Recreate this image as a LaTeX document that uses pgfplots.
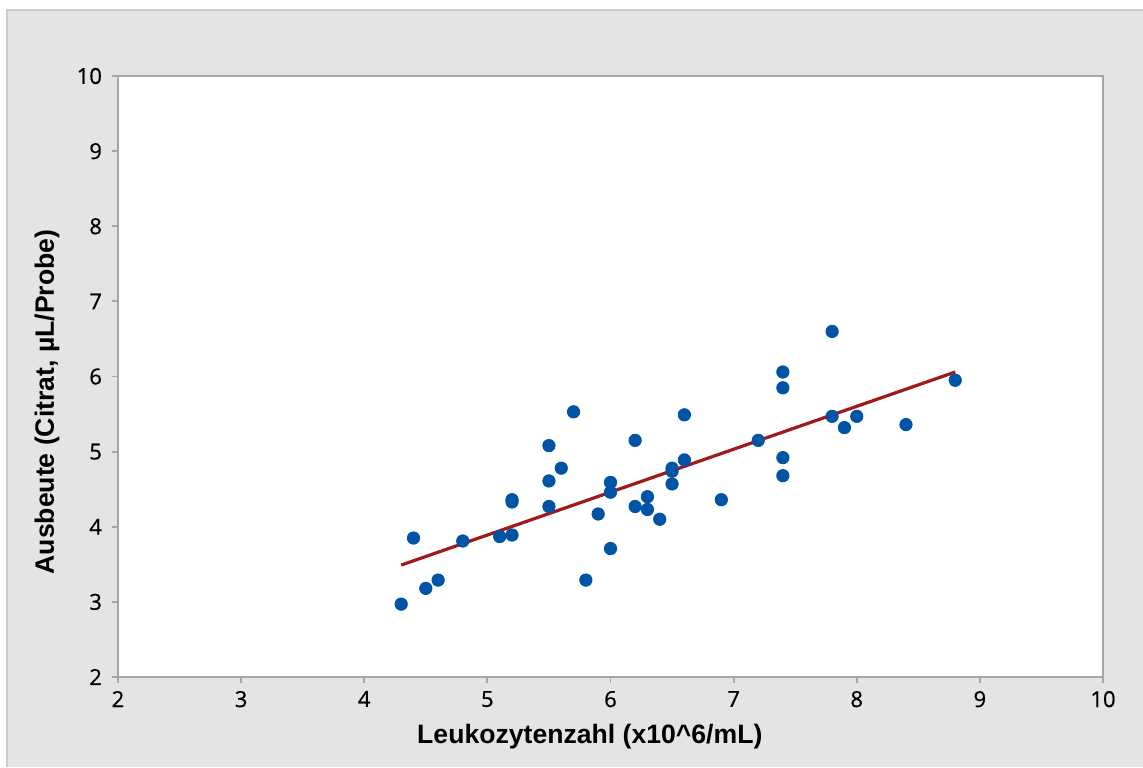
\documentclass[border=0pt]{standalone}
\usepackage{fontspec}
\setmainfont{Liberation Sans}
\newfontfamily\tickfont[FakeBold=0.7]{Open Sans}
\usepackage{pgfplots}
\pgfplotsset{compat=1.18}

\definecolor{bg}{HTML}{E4E4E4}
\definecolor{frame}{HTML}{CCCCCC}
\definecolor{axgray}{HTML}{A6A6A6}
\definecolor{dotblue}{HTML}{0054A6}
\definecolor{fitred}{HTML}{A01A1A}

\pgfplotstableread{
x y
4.3 2.97
4.4 3.85
4.5 3.18
4.6 3.29
4.8 3.81
5.1 3.87
5.2 3.89
5.2 4.33
5.2 4.36
5.5 4.27
5.5 4.61
5.5 5.08
5.6 4.78
5.7 5.53
5.8 3.29
5.9 4.17
6.0 3.71
6.0 4.46
6.0 4.59
6.2 4.27
6.2 5.15
6.3 4.23
6.3 4.40
6.4 4.10
6.5 4.57
6.5 4.74
6.5 4.78
6.6 4.89
6.6 5.49
6.9 4.36
7.2 5.15
7.4 4.68
7.4 4.92
7.4 5.85
7.4 6.06
7.8 5.47
7.8 6.60
7.9 5.32
8.0 5.47
8.4 5.36
8.8 5.95
}\leuko

\begin{document}
\begin{tikzpicture}
% page frame: 1 px = 0.5pt, axis origin at px (118,677)
\fill[white] (-59pt,-45pt) rectangle (512.5pt,338.5pt);
\fill[bg] (-55.5pt,-45pt) rectangle (512.5pt,333.5pt);
\draw[frame,line width=1pt] (-55.5pt,-45pt) -- (-55.5pt,333.5pt) -- (512.5pt,333.5pt);
\begin{axis}[
  at={(0,0)},anchor=origin,
  scale only axis,width=492.5pt,height=300.5pt,
  xmin=2,xmax=10,ymin=2,ymax=10,
  xtick={2,...,10},ytick={2,...,10},
  axis background/.style={fill=white},
  axis line style={axgray,line width=0.9pt},
  tick style={axgray,line width=0.9pt},
  tick align=outside,major tick length=3pt,
  xtick pos=bottom,ytick pos=left,
  /pgf/number format/assume math mode=true,
  tick label style={font=\tickfont\fontsize{11}{13}\selectfont,text=black},
  xticklabel style={yshift=-0.5pt},
  yticklabel style={xshift=-1.5pt},
  xlabel={Leukozytenzahl (x10\^{}6/mL)},
  ylabel={Ausbeute (Citrat, µL/Probe)},
  label style={font=\bfseries\fontsize{13.3}{15}\selectfont},
  xlabel style={at={(axis description cs:0.479,-0.0998)},anchor=center},
  ylabel style={at={(axis description cs:-0.0721,0.4576)},anchor=center,rotate=0},
  clip=false,
]
\addplot[only marks,mark=*,mark size=3.1pt,dotblue,mark options={draw=dotblue,fill=dotblue}] table[x=x,y=y] {\leuko};
\addplot[fitred,line width=1.6pt] coordinates {(4.3,3.49) (8.8,6.06)};
\end{axis}
\pgfresetboundingbox
\useasboundingbox (-59pt,-45pt) rectangle (512.5pt,338.5pt);
\end{tikzpicture}
\end{document}
